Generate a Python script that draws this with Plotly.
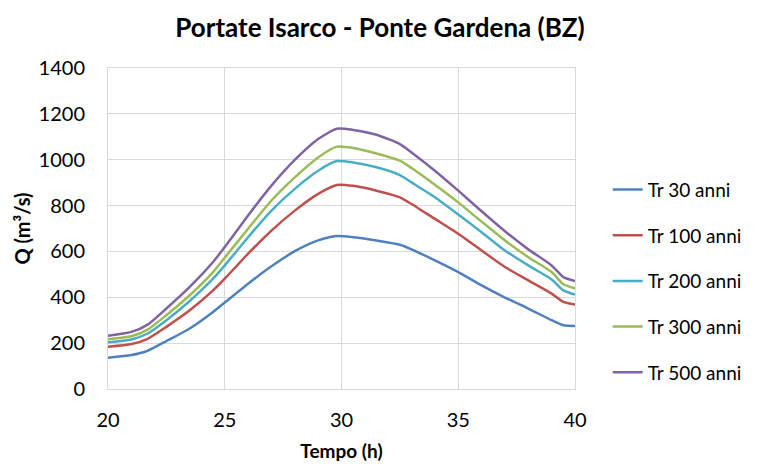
import plotly.graph_objects as go

tempo = [20, 21, 21.7, 22.5, 23.5, 24.5, 25, 26, 27, 28, 29, 29.8, 30.5, 31.5, 32.5, 33, 34, 35, 36, 37, 38, 39, 39.5, 40]

tr30 = [136, 148, 167, 209, 264, 336, 377, 459, 535, 601, 648, 667, 662, 648, 629, 609, 561, 510, 452, 399, 351, 300, 278, 275]
tr100 = [184, 196, 219, 271, 343, 430, 481, 590, 691, 778, 851, 890, 886, 865, 836, 807, 742, 677, 604, 532, 474, 416, 380, 368]
tr200 = [204, 216, 242, 300, 384, 481, 539, 662, 778, 873, 952, 994, 988, 967, 933, 901, 836, 761, 684, 604, 539, 478, 430, 412]
tr300 = [217, 230, 259, 322, 409, 510, 573, 699, 822, 923, 1010, 1057, 1051, 1027, 996, 964, 891, 814, 730, 648, 575, 510, 457, 439]
tr500 = [232, 249, 281, 351, 445, 554, 619, 757, 887, 999, 1090, 1135, 1130, 1109, 1068, 1032, 952, 865, 775, 688, 609, 539, 488, 471]

series_names = ["Tr 30 anni", "Tr 100 anni", "Tr 200 anni", "Tr 300 anni", "Tr 500 anni"]
series_values = [tr30, tr100, tr200, tr300, tr500]
series_colors = ["#4F81BD", "#C0504D", "#4BACC6", "#9BBB59", "#8064A2"]

x_ticks = [20, 25, 30, 35, 40]
y_ticks = [0, 200, 400, 600, 800, 1000, 1200, 1400]

FONT = "Lato, 'Open Sans', sans-serif"

fig = go.Figure()
for name, vals, col in zip(series_names, series_values, series_colors):
    fig.add_trace(go.Scatter(
        x=tempo, y=vals, mode="lines", name=name, legendgroup=name,
        line=dict(color=col, width=2.5, shape="spline", smoothing=0.6),
    ))

fig.update_layout(
    width=760, height=464,
    margin=dict(l=108, r=185, t=68, b=75),
    paper_bgcolor="white", plot_bgcolor="white",
    font=dict(family=FONT, color="#000000", size=19),
    title=dict(text="<b>Portate Isarco - Ponte Gardena (BZ)</b>",
               x=0.5, xanchor="center", y=0.94, yanchor="middle",
               font=dict(size=26, family=FONT, color="#000000")),
    xaxis=dict(range=[20, 40], tickvals=x_ticks, showgrid=True, gridcolor="#D9D9D9",
               gridwidth=1, showline=True, linecolor="#D9D9D9", mirror=True,
               zeroline=False, ticks="", tickfont=dict(size=20), ticklabelstandoff=13,
               automargin=False,
               title=dict(text="<b>Tempo (h)</b>", font=dict(size=19), standoff=14)),
    yaxis=dict(range=[0, 1400], tickvals=y_ticks, showgrid=True, gridcolor="#D9D9D9",
               gridwidth=1, showline=True, linecolor="#D9D9D9", mirror=True,
               zeroline=False, ticks="", tickfont=dict(size=20), ticklabelstandoff=18,
               automargin=False,
               title=dict(text="<b>Q (m³/s)</b>", font=dict(size=20), standoff=2)),
    legend=dict(x=1.07, xanchor="left", y=0.336, yanchor="middle",
                font=dict(size=19, family=FONT), tracegroupgap=18,
                bgcolor="rgba(0,0,0,0)"),
    showlegend=True,
)

fig.write_html("out.html")
